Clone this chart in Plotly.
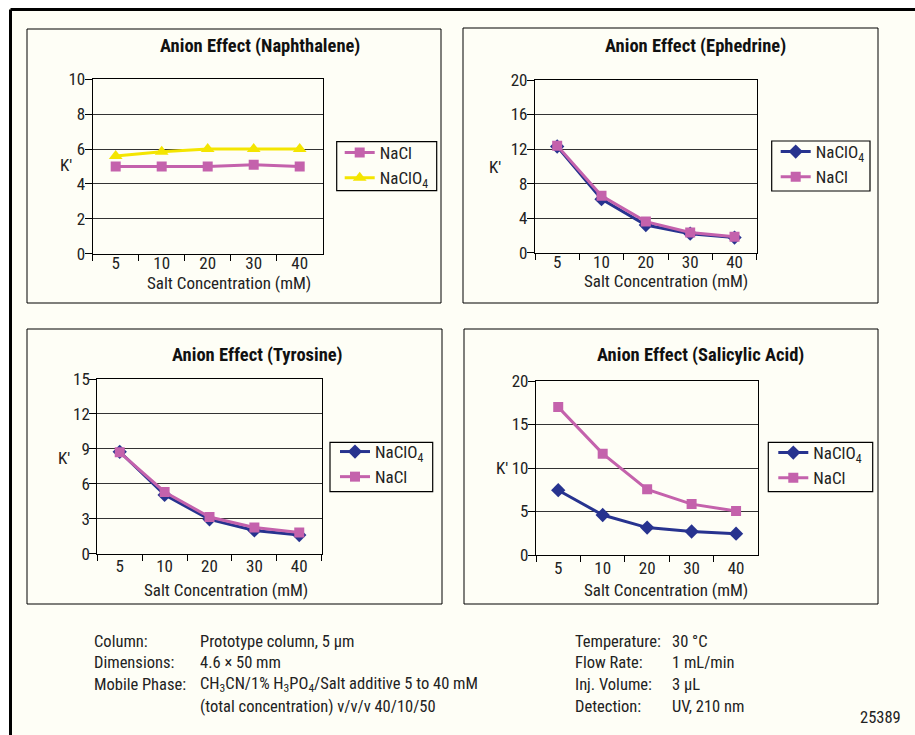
import plotly.graph_objects as go

W, H = 915, 735

# ---------------- data ----------------
conc = ["5", "10", "20", "30", "40"]

naph_nacl = [5.0, 5.0, 5.0, 5.1, 5.0]
naph_naclo4 = [5.6, 5.85, 6.0, 6.0, 6.0]

eph_naclo4 = [12.3, 6.2, 3.2, 2.2, 1.75]
eph_nacl = [12.4, 6.6, 3.6, 2.35, 1.85]

tyr_naclo4 = [8.75, 5.05, 2.95, 2.0, 1.6]
tyr_nacl = [8.7, 5.3, 3.15, 2.25, 1.83]

sal_naclo4 = [7.45, 4.6, 3.15, 2.7, 2.45]
sal_nacl = [17.0, 11.65, 7.55, 5.85, 5.05]

titles = ["Anion Effect (Naphthalene)", "Anion Effect (Ephedrine)",
          "Anion Effect (Tyrosine)", "Anion Effect (Salicylic Acid)"]
y_max = [10, 20, 15, 20]
y_dtick = [2, 4, 3, 5]

# ---------------- style ----------------
FONT = "Liberation Sans Narrow, Arial Narrow, Roboto Condensed, DejaVu Sans Condensed, sans-serif"
CREAM = "#FEFEF6"
PINK = "#C462AC"
NAVY = "#27338F"
YELLOW = "#F4E500"
TXT = "#222222"
FS = 17


def px(x):
    return x / W


def py(y):
    return 1 - y / H


# plot-area pixel boxes (x0, x1, ytop, ybottom)
areas = [(92.7, 322.7, 79.3, 253.7),
         (535.0, 756.7, 80.0, 252.7),
         (97.3, 321.7, 379.0, 553.7),
         (536.0, 758.3, 381.0, 555.0)]
panels = [(27, 29, 441, 303), (463, 28, 878, 303),
          (27, 329, 442, 604), (464, 329, 878, 604)]
legend_box = [(336.7, 141.7, 436.7, 190.7), (771.7, 141.0, 870.0, 191.0),
              (330.0, 442.3, 432.7, 491.7), (768.3, 442.3, 872.7, 491.7)]
legend_pos = [(339.7, 135.0), (775.7, 134.0), (335.0, 434.0), (773.3, 435.0)]
title_pos = [(260, 45.7), (695, 45.7), (257, 355), (700, 355)]
xtitle_pos = [(228.8, 282.5), (665.5, 281.0), (226, 590), (666, 590)]
k_pos = [(65.8, 165), (495, 166.7), (64, 458), (502, 468)]
x_standoff = [-6, -6, -3, -3]

series = [
    [("NaCl", naph_nacl, PINK, "square", 10), ("NaClO<sub>4</sub>", naph_naclo4, YELLOW, "triangle-up", 12)],
    [("NaClO<sub>4</sub>", eph_naclo4, NAVY, "diamond", 11), ("NaCl", eph_nacl, PINK, "square", 10)],
    [("NaClO<sub>4</sub>", tyr_naclo4, NAVY, "diamond", 11), ("NaCl", tyr_nacl, PINK, "square", 10)],
    [("NaClO<sub>4</sub>", sal_naclo4, NAVY, "diamond", 11), ("NaCl", sal_nacl, PINK, "square", 10)],
]

fig = go.Figure()
layout = dict(
    width=W, height=H, margin=dict(l=0, r=0, t=0, b=0, pad=0, autoexpand=False),
    paper_bgcolor="white", plot_bgcolor=CREAM,
    font=dict(family=FONT, size=FS, color=TXT),
    showlegend=True,
)

shapes = []
annotations = []

# outer cream background and frame
shapes.append(dict(type="rect", xref="paper", yref="paper", x0=px(9), x1=1.01, y0=-0.01, y1=py(8),
                   fillcolor=CREAM, line=dict(width=0), layer="below"))
shapes.append(dict(type="line", xref="paper", yref="paper", x0=px(10.5), x1=1.01, y0=py(9.5), y1=py(9.5),
                   line=dict(color="black", width=3)))
shapes.append(dict(type="line", xref="paper", yref="paper", x0=px(10.5), x1=px(10.5), y0=-0.01, y1=py(9.5),
                   line=dict(color="black", width=3)))

for i in range(4):
    n = i + 1
    xa = "x" if n == 1 else f"x{n}"
    ya = "y" if n == 1 else f"y{n}"
    lg = "legend" if n == 1 else f"legend{n}"
    x0, x1, yt, yb = areas[i]

    # panel boxes
    bx0, by0, bx1, by1 = panels[i]
    shapes.append(dict(type="rect", xref="paper", yref="paper",
                       x0=px(bx0), x1=px(bx1), y0=py(by1), y1=py(by0),
                       line=dict(color="black", width=1), fillcolor=CREAM, layer="below"))
    # legend frame
    lx0, ly0, lx1, ly1 = legend_box[i]
    shapes.append(dict(type="rect", xref="paper", yref="paper",
                       x0=px(lx0), x1=px(lx1), y0=py(ly1), y1=py(ly0),
                       line=dict(color="black", width=1.2), fillcolor="rgba(0,0,0,0)", layer="above"))

    for name, vals, col, sym, size in series[i]:
        fig.add_trace(go.Scatter(
            x=conc, y=vals, name=name, mode="lines+markers",
            line=dict(color=col, width=3),
            marker=dict(symbol=sym, size=size, color=col, line=dict(width=0)),
            xaxis=xa, yaxis=ya, legend=lg,
        ))

    layout["xaxis" if n == 1 else f"xaxis{n}"] = dict(
        domain=[px(x0), px(x1)], anchor=ya, type="category",
        range=[-0.5, 4.5], showline=True, linecolor="black", linewidth=1.2,
        mirror=True, ticks="outside", tickson="boundaries", ticklen=6,
        tickcolor="black", tickwidth=1.2, showgrid=False, automargin=False,
        ticklabelstandoff=x_standoff[i],
        tickfont=dict(family=FONT, size=FS, color=TXT),
    )
    layout["yaxis" if n == 1 else f"yaxis{n}"] = dict(
        domain=[py(yb), py(yt)], anchor=xa,
        range=[0, y_max[i]], dtick=y_dtick[i], tick0=0,
        showline=True, linecolor="black", linewidth=1.2, mirror=True,
        ticks="outside", ticklen=7, tickcolor="black", tickwidth=1.2,
        showgrid=True, gridcolor="#333333", gridwidth=1.2, zeroline=False,
        ticklabelstandoff=-4, automargin=False,
        tickfont=dict(family=FONT, size=FS, color=TXT),
    )
    lx, ly = legend_pos[i]
    layout[lg] = dict(
        x=px(lx), y=py(ly), xanchor="left", yanchor="top",
        bgcolor="rgba(0,0,0,0)", borderwidth=0,
        font=dict(family=FONT, size=FS, color=TXT),
        tracegroupgap=0, itemwidth=30,
    )

    tx, ty = title_pos[i]
    annotations.append(dict(text="<b>" + titles[i] + "</b>", x=px(tx), y=py(ty), xref="paper", yref="paper",
                            showarrow=False, xanchor="center", yanchor="middle",
                            font=dict(family=FONT, size=18.5, color="#111111")))
    ax_, ay_ = xtitle_pos[i]
    annotations.append(dict(text="Salt Concentration (mM)", x=px(ax_), y=py(ay_), xref="paper", yref="paper",
                            showarrow=False, xanchor="center", yanchor="middle",
                            font=dict(family=FONT, size=FS, color=TXT)))
    kx, ky = k_pos[i]
    annotations.append(dict(text="K'", x=px(kx), y=py(ky), xref="paper", yref="paper",
                            showarrow=False, xanchor="center", yanchor="middle",
                            font=dict(family=FONT, size=FS, color=TXT)))

# ---------------- conditions text ----------------
left_labels = ["Column:", "Dimensions:", "Mobile Phase:", ""]
left_values = ["Prototype column, 5 µm", "4.6 × 50 mm",
               "CH<sub>3</sub>CN/1% H<sub>3</sub>PO<sub>4</sub>/Salt additive 5 to 40 mM",
               "(total concentration) v/v/v 40/10/50"]
right_labels = ["Temperature:", "Flow Rate:", "Inj. Volume:", "Detection:"]
right_values = ["30 °C", "1 mL/min", "3 µL", "UV, 210 nm"]
rows_y = [641, 662, 684, 706]

for j in range(4):
    for text, x in [(left_labels[j], 91.7), (left_values[j], 198.3),
                    (right_labels[j], 572.7), (right_values[j], 670)]:
        if text:
            annotations.append(dict(text=text, x=px(x), y=py(rows_y[j]), xref="paper", yref="paper",
                                    showarrow=False, xanchor="left", yanchor="middle",
                                    font=dict(family=FONT, size=16.5, color=TXT)))
annotations.append(dict(text="25389", x=px(903), y=py(717), xref="paper", yref="paper",
                        showarrow=False, xanchor="right", yanchor="middle",
                        font=dict(family=FONT, size=16.5, color=TXT)))

layout["shapes"] = shapes
layout["annotations"] = annotations
fig.update_layout(**layout)

fig.write_html("out.html",
               post_script="document.body.style.margin='0';document.body.style.padding='0';")
